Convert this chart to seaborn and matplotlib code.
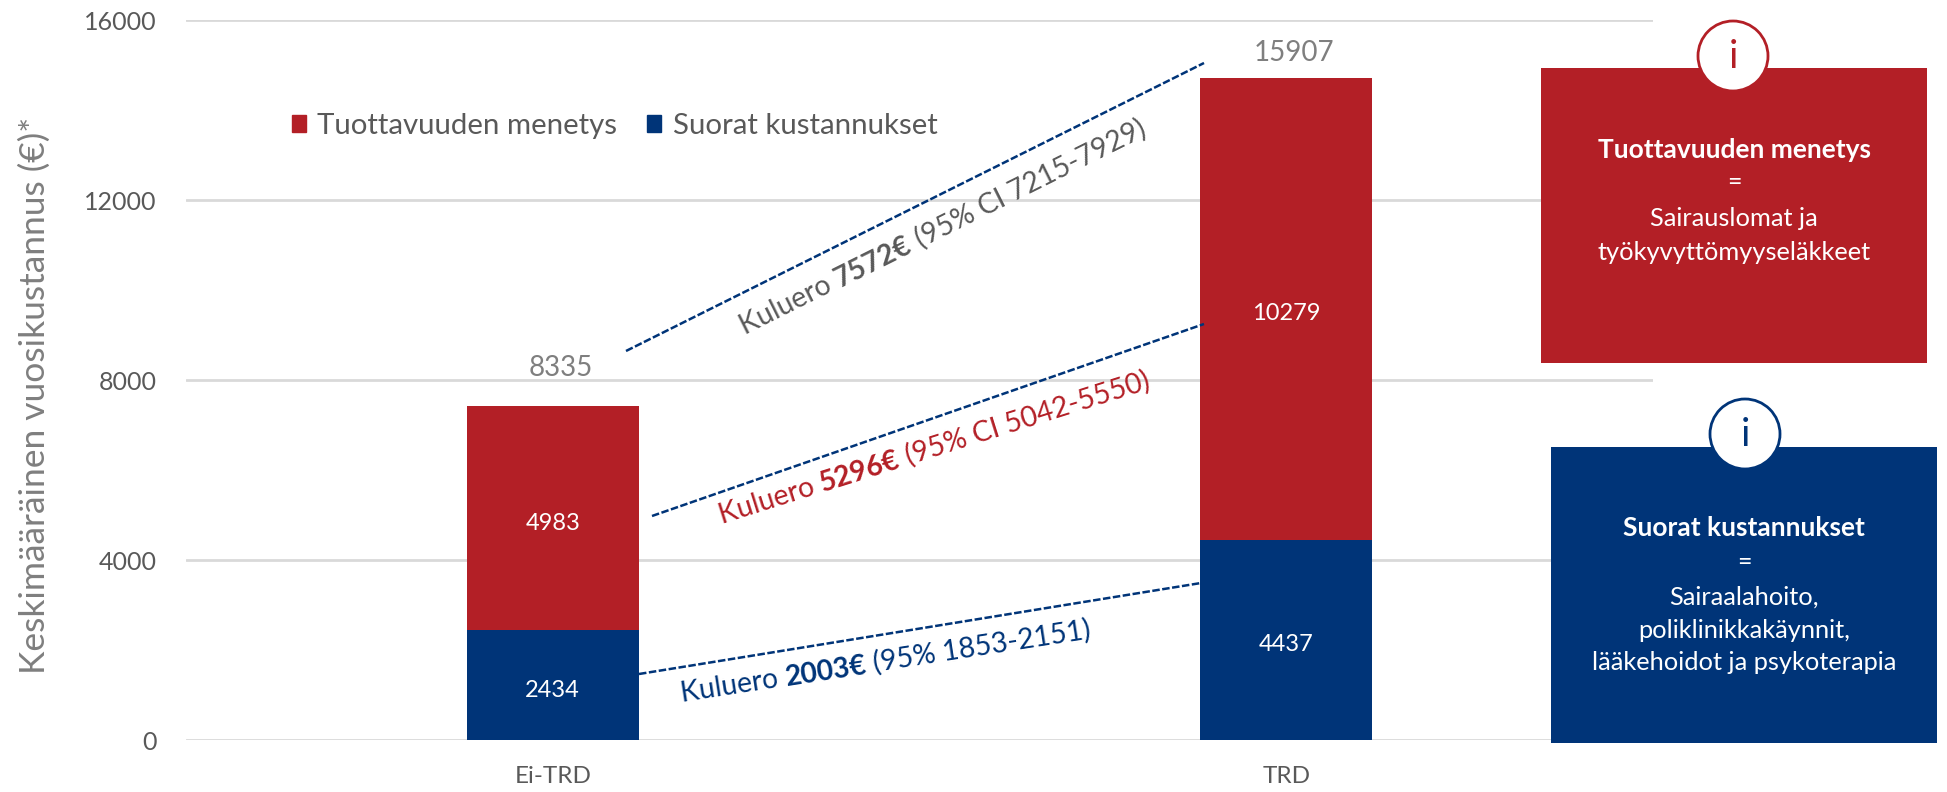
import numpy as np
import pandas as pd
import matplotlib
matplotlib.use('Agg')
import matplotlib.pyplot as plt
from matplotlib.patches import Rectangle, Circle, Patch
import seaborn as sns

categories = ['Ei-TRD', 'TRD']
direct_costs = [2434, 4437]
productivity_loss = [4983, 10279]
total_labels = ['8335', '15907']
y_ticks = [0, 4000, 8000, 12000, 16000]

RED = '#B31F26'
BLUE = '#003478'
GRAY = '#7F7F7F'
DARK = '#595959'
W, H = 1947, 792

sns.set_theme(style='white')
plt.rcParams['font.family'] = ['Lato', 'DejaVu Sans']

df = pd.DataFrame({'group': categories, 'direct': direct_costs, 'prod': productivity_loss})
df['stack'] = df['direct'] + df['prod']

fig = plt.figure(figsize=(W / 100, H / 100), dpi=100, facecolor='white')
ax = fig.add_axes([186 / W, 1 - 740 / H, (1653 - 186) / W, (740 - 20) / H])

# stacked bars: full height in red first, direct costs on top of it
sns.barplot(data=df, x='group', y='stack', color=RED, width=0.234, saturation=1, ax=ax, zorder=3,
            linewidth=0, edgecolor='none')
sns.barplot(data=df, x='group', y='direct', color=BLUE, width=0.234, saturation=1, ax=ax, zorder=4,
            linewidth=0, edgecolor='none')

ax.set_xlim(-0.5, 1.5)
ax.set_ylim(0, 16000)
ax.set_yticks(y_ticks)
ax.set_xlabel('')
ax.set_ylabel('')
ax.grid(axis='y', color='#D9D9D9', linewidth=2)
ax.set_axisbelow(True)
sns.despine(ax=ax, left=True, bottom=True, top=True, right=True)
ax.tick_params(axis='y', length=0, pad=21, labelsize=18, labelcolor=DARK)
ax.tick_params(axis='x', length=0, pad=19, labelsize=17.5, labelcolor=DARK)

for i in range(len(categories)):
    for label, mid in [(direct_costs[i], direct_costs[i] / 2),
                       (productivity_loss[i], direct_costs[i] + productivity_loss[i] / 2)]:
        ax.annotate(str(label), (i, mid), xytext=(0, -2), textcoords='offset points', color='white',
                    fontsize=17, ha='center', va='center_baseline', zorder=5)

handles = [Patch(color=RED), Patch(color=BLUE)]
fig.legend(handles, ['Tuottavuuden menetys', 'Suorat kustannukset'], ncol=2, frameon=False,
           loc='center left', bbox_to_anchor=(265 / W, 1 - 126 / H), fontsize=21.2, labelcolor=DARK,
           handlelength=0.48, handleheight=0.48, handletextpad=0.4, columnspacing=1.0)

fig.text(35 / W, 1 - 395 / H, 'Keskimääräinen vuosikustannus (€)*', rotation=90, color=GRAY,
         fontsize=25.5, ha='center', va='center')

# overlay in pixel coordinates for notes and info boxes
ov = fig.add_axes([0, 0, 1, 1], zorder=10)
ov.set_xlim(0, W)
ov.set_ylim(H, 0)
ov.axis('off')
ov.patch.set_alpha(0)

ov.text(561, 368, total_labels[0], color=GRAY, fontsize=20, ha='center', va='center')
ov.text(1294, 53, total_labels[1], color=GRAY, fontsize=20, ha='center', va='center')

for p0, p1 in [((626, 351), (1204, 63)), ((652, 516), (1204, 324)), ((639, 674), (1201, 583))]:
    ov.plot([p0[0], p1[0]], [p0[1], p1[1]], color=BLUE, lw=1.8, ls=(0, (3, 1)))


def rotated_note(x, y, angle, parts, color, size=20):
    # draw regular/bold pieces one after another along the rotated baseline
    renderer = fig.canvas.get_renderer()
    a = np.deg2rad(angle)
    for txt, bold in parts:
        t = ov.text(x, y, txt, color=color, fontsize=size, fontweight='bold' if bold else 'normal',
                    rotation=0, ha='left', va='baseline', rotation_mode='anchor')
        w = t.get_window_extent(renderer).width
        t.set_rotation(angle)
        x += w * np.cos(a)
        y -= w * np.sin(a)


rotated_note(745, 335, 26.5, [('Kuluero ', False), ('7572€', True), (' (95% CI 7215-7929)', False)], DARK, 20.4)
rotated_note(722, 524, 17.5, [('Kuluero ', False), ('5296€', True), (' (95% CI 5042-5550)', False)], RED, 20.4)
rotated_note(682, 702, 8.8, [('Kuluero ', False), ('2003€', True), (' (95% 1853-2151)', False)], BLUE, 20.3)


def info_box(x0, y0, x1, y1, cx, cy, color, title, lines, ys):
    ov.add_patch(Rectangle((x0, y0), x1 - x0, y1 - y0, facecolor=color, edgecolor='none'))
    ov.add_patch(Circle((cx, cy), 35, facecolor='white', edgecolor=color, lw=2))
    ov.text(cx, cy + 1, 'i', color=color, fontsize=28, ha='center', va='center')
    mid = (x0 + x1) / 2
    ov.text(mid, ys[0], title, color='white', fontsize=19, fontweight='bold', ha='center', va='center')
    ov.text(mid, ys[1], '=', color='white', fontsize=18, ha='center', va='center')
    for line, yy in zip(lines, ys[2:]):
        ov.text(mid, yy, line, color='white', fontsize=18.3, ha='center', va='center')


info_box(1541, 68, 1927, 363, 1733, 56, RED, 'Tuottavuuden menetys',
         ['Sairauslomat ja', 'työkyvyttömyyseläkkeet'], [150, 183, 218, 252])
info_box(1551, 447, 1937, 743, 1745, 434, BLUE, 'Suorat kustannukset',
         ['Sairaalahoito,', 'poliklinikkakäynnit,', 'lääkehoidot ja psykoterapia'], [528, 563, 597, 631, 663])

fig.savefig('out.png', dpi=100)
